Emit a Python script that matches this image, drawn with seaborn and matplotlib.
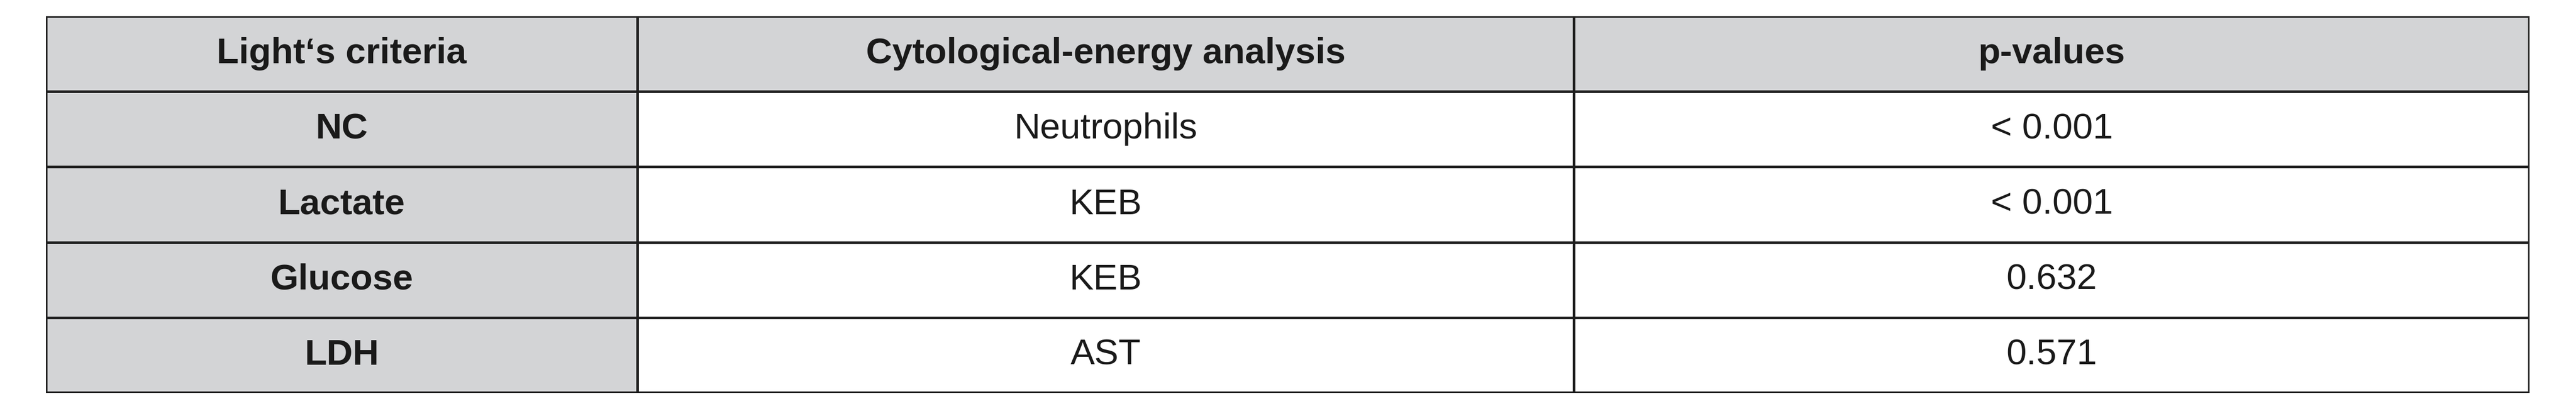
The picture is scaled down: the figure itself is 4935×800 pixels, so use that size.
import matplotlib
matplotlib.use("Agg")
import matplotlib.pyplot as plt
from matplotlib.colors import ListedColormap
import seaborn as sns
import numpy as np

header = ["Light\u2018s criteria", "Cytological-energy analysis", "p-values"]
criteria = ["NC", "Lactate", "Glucose", "LDH"]
analysis = ["Neutrophils", "KEB", "KEB", "AST"]
pvalues = ["< 0.001", "< 0.001", "0.632", "0.571"]

sns.set_theme(style="white")
plt.rcParams['font.family'] = ['Liberation Sans', 'DejaVu Sans']

rows = [header] + [[c, a, p] for c, a, p in zip(criteria, analysis, pvalues)]
nrow, ncol = len(rows), len(header)
# 0 = grey cell (header row and first column), 1 = white
shade = np.ones((nrow, ncol))
shade[0, :] = 0
shade[:, 0] = 0

fig = plt.figure(figsize=(49.35, 8), dpi=100)
# column boundaries in pixels: 88, 1221, 3015, 4846
ax = fig.add_axes([88 / 4935, 48 / 800, (4846 - 88) / 4935, (769 - 48) / 800])
widths = [1221 - 88, 3015 - 1221, 4846 - 3015]
edges = np.concatenate([[0], np.cumsum(widths)])
X, Y = np.meshgrid(edges, np.arange(nrow + 1))
ax.pcolormesh(X, Y, shade, cmap=ListedColormap(["#d3d4d6", "#ffffff"]),
              edgecolors="#1e1e1e", linewidth=3.5)
sns.despine(ax=ax, left=True, bottom=True)
ax.set_xlim(edges[0], edges[-1])
ax.set_ylim(nrow, 0)
ax.axis("off")
for spine_y in [0, nrow]:
    ax.axhline(spine_y, color="#1e1e1e", lw=4)
ax.axvline(0, color="#1e1e1e", lw=4)
ax.axvline(edges[-1], color="#1e1e1e", lw=4)

for i, r in enumerate(rows):
    for j, txt in enumerate(r):
        bold = i == 0 or j == 0
        ax.text((edges[j] + edges[j + 1]) / 2, i + 0.5, txt, ha="center", va="center",
                fontsize=50, fontweight="bold" if bold else "normal", color="#1a1a1a")

fig.savefig("out.png", dpi=100)
